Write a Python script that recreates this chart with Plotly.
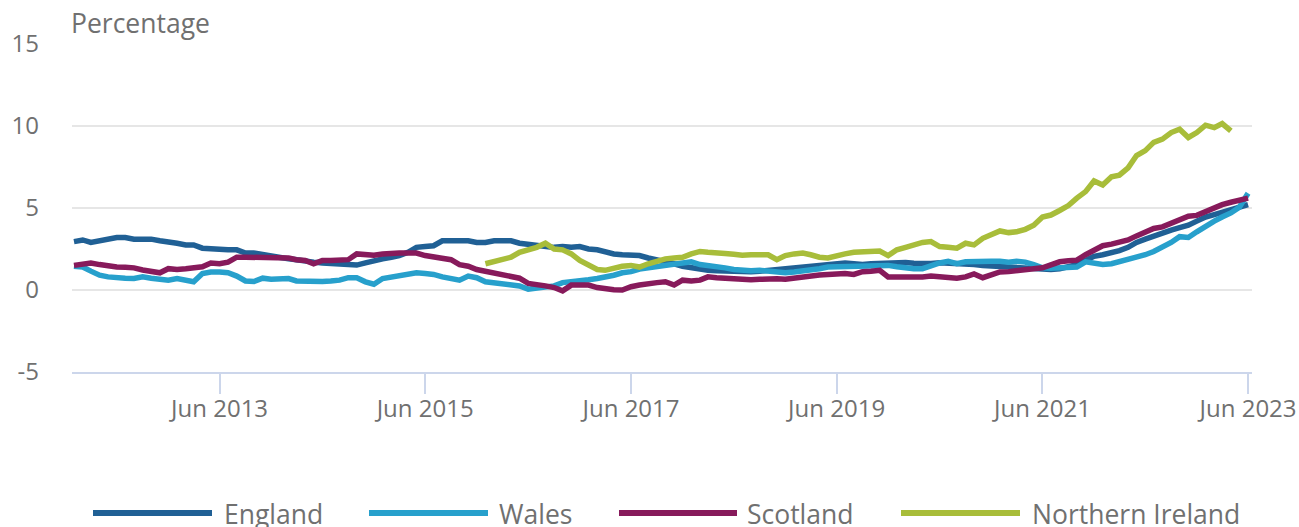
import pandas as pd
import plotly.graph_objects as go

months = pd.date_range("2012-01-01", periods=138, freq="MS")

england = [
    2.95, 3.05, 2.9, 3.0, 3.15, 3.2, 3.2, 3.1, 3.1, 3.1,
    3.0, 2.95, 2.85, 2.75, 2.75, 2.55, 2.5, 2.45, 2.45, 2.45,
    2.25, 2.25, 2.15, 2.1, 1.95, 1.9, 1.85, 1.75, 1.7, 1.65,
    1.6, 1.55, 1.5, 1.52, 1.65, 1.8, 1.9, 2.0, 2.1, 2.3,
    2.6, 2.65, 2.7, 3.0, 3.0, 3.0, 3.0, 2.9, 2.9, 3.0,
    3.0, 3.0, 2.85, 2.8, 2.75, 2.65, 2.6, 2.65, 2.6, 2.65,
    2.5, 2.45, 2.3, 2.2, 2.15, 2.1, 2.1, 1.95, 1.85, 1.75,
    1.6, 1.45, 1.35, 1.25, 1.2, 1.18, 1.15, 1.12, 1.1, 1.12,
    1.15, 1.2, 1.25, 1.3, 1.35, 1.38, 1.45, 1.5, 1.55, 1.6,
    1.65, 1.6, 1.55, 1.6, 1.63, 1.68, 1.72, 1.68, 1.63, 1.6,
    1.62, 1.66, 1.65, 1.63, 1.6, 1.55, 1.5, 1.47, 1.45, 1.42,
    1.38, 1.33, 1.28, 1.25, 1.25, 1.3, 1.4, 1.55, 1.8, 2.05,
    2.15, 2.25, 2.4, 2.6, 2.9, 3.1, 3.3, 3.5, 3.65, 3.8,
    3.95, 4.2, 4.45, 4.6, 4.75, 4.9, 5.05, 5.2,
]

wales = [
    1.45, 1.4, 1.15, 0.9, 0.8, 0.8, 0.72, 0.7, 0.8, 0.72,
    0.62, 0.6, 0.7, 0.55, 0.5, 1.0, 1.1, 1.1, 1.05, 0.85,
    0.55, 0.52, 0.72, 0.65, 0.65, 0.7, 0.55, 0.52, 0.52, 0.52,
    0.55, 0.6, 0.75, 0.75, 0.5, 0.35, 0.7, 0.8, 0.9, 0.95,
    1.05, 1.0, 0.95, 0.8, 0.7, 0.6, 0.85, 0.75, 0.5, 0.42,
    0.38, 0.33, 0.25, 0.05, 0.1, 0.2, 0.25, 0.45, 0.5, 0.5,
    0.62, 0.7, 0.78, 0.9, 1.05, 1.12, 1.28, 1.35, 1.45, 1.5,
    1.58, 1.68, 1.72, 1.55, 1.5, 1.45, 1.35, 1.25, 1.18, 1.18,
    1.2, 1.15, 1.08, 1.05, 1.1, 1.15, 1.25, 1.3, 1.4, 1.42,
    1.45, 1.42, 1.42, 1.48, 1.53, 1.5, 1.42, 1.35, 1.3, 1.3,
    1.5, 1.65, 1.75, 1.6, 1.72, 1.75, 1.75, 1.75, 1.75, 1.7,
    1.75, 1.7, 1.55, 1.35, 1.32, 1.32, 1.32, 1.4, 1.72, 1.65,
    1.55, 1.6, 1.72, 1.85, 2.0, 2.15, 2.35, 2.6, 2.9, 3.25,
    3.2, 3.55, 3.9, 4.2, 4.45, 4.7, 5.05, 5.9,
]

scotland = [
    1.5, 1.62, 1.65, 1.55, 1.45, 1.4, 1.38, 1.35, 1.22, 1.1,
    1.05, 1.3, 1.25, 1.3, 1.38, 1.42, 1.65, 1.6, 1.7, 2.0,
    2.0, 2.0, 1.95, 1.95, 1.95, 1.95, 1.85, 1.8, 1.6, 1.8,
    1.8, 1.85, 1.85, 2.2, 2.15, 2.12, 2.2, 2.25, 2.25, 2.25,
    2.25, 2.1, 2.0, 1.95, 1.85, 1.55, 1.45, 1.25, 1.15, 1.05,
    0.95, 0.85, 0.72, 0.4, 0.35, 0.25, 0.15, -0.05, 0.3, 0.3,
    0.3, 0.15, 0.05, 0.02, 0.0, 0.2, 0.3, 0.4, 0.45, 0.5,
    0.3, 0.6, 0.55, 0.6, 0.8, 0.75, 0.72, 0.7, 0.62, 0.62,
    0.65, 0.7, 0.68, 0.65, 0.72, 0.8, 0.9, 0.92, 0.95, 1.0,
    1.0, 0.95, 1.12, 1.15, 1.2, 0.8, 0.78, 0.77, 0.77, 0.8,
    0.85, 0.78, 0.75, 0.72, 0.8, 0.98, 0.75, 0.9, 1.1, 1.12,
    1.2, 1.25, 1.3, 1.35, 1.5, 1.72, 1.78, 1.82, 2.15, 2.4,
    2.7, 2.8, 2.9, 3.05, 3.3, 3.55, 3.75, 3.85, 4.1, 4.3,
    4.5, 4.55, 4.8, 5.0, 5.2, 5.35, 5.45, 5.6,
]

northern_ireland = [None] * 48 + [
    1.6, 1.75, 1.85, 2.0, 2.3, 2.45, 2.6, 2.85, 2.5, 2.45,
    2.2, 1.8, 1.5, 1.25, 1.2, 1.35, 1.45, 1.5, 1.4, 1.6,
    1.75, 1.9, 1.95, 2.0, 2.2, 2.35, 2.3, 2.3, 2.22, 2.18,
    2.12, 2.15, 2.15, 2.15, 1.85, 2.1, 2.2, 2.25, 2.15, 2.0,
    1.95, 2.1, 2.2, 2.3, 2.32, 2.35, 2.38, 2.1, 2.45, 2.6,
    2.75, 2.9, 2.95, 2.65, 2.6, 2.55, 2.85, 2.75, 3.15, 3.35,
    3.6, 3.5, 3.55, 3.7, 3.95, 4.45, 4.57, 4.85, 5.15, 5.6,
    6.0, 6.65, 6.4, 6.9, 7.0, 7.45, 8.2, 8.5, 9.0, 9.2,
    9.6, 9.8, 9.3, 9.6, 10.05, 9.9, 10.15, 9.7,
] + [None, None]

series_names = ["England", "Wales", "Scotland", "Northern Ireland"]
series_colors = ["#206095", "#27a0cc", "#871a5b", "#a8bd3a"]
series_values = [england, wales, scotland, northern_ireland]

x_tick_vals = ["2013-06-01", "2015-06-01", "2017-06-01", "2019-06-01", "2021-06-01", "2023-06-01"]
x_tick_text = ["Jun 2013", "Jun 2015", "Jun 2017", "Jun 2019", "Jun 2021", "Jun 2023"]
y_tick_vals = [-5, 0, 5, 10, 15]
y_tick_text = ["-5", "0", "5", "10", "15"]

W, H = 1299, 527
L, R, T, B = 72, 47, 44, 155
PW = W - L - R
PH = H - T - B
TEXT = "#707070"
FONT = "Open Sans"

fig = go.Figure()
for name, color, vals in zip(series_names, series_colors, series_values):
    fig.add_trace(go.Scatter(
        x=months, y=vals, name=name, mode="lines",
        line=dict(color=color, width=5.5), connectgaps=False,
        showlegend=False,
    ))

def px_x(p):
    return (p - L) / PW

def px_y(p):
    return (H - B - p) / PH

# Custom legend (long line samples)
legend_items = [(93, 212, 222), (369, 488, 497), (619, 737, 745), (901, 1020, 1030)]
shapes = []
annotations = []
ly = 513
for (x0, x1, tx), name, color in zip(legend_items, series_names, series_colors):
    shapes.append(dict(type="line", xref="paper", yref="paper",
                       x0=px_x(x0), x1=px_x(x1), y0=px_y(ly), y1=px_y(ly),
                       line=dict(color=color, width=6)))
    annotations.append(dict(xref="paper", yref="paper", x=px_x(tx), y=px_y(ly + 1),
                            xanchor="left", yanchor="middle", text=name, showarrow=False,
                            font=dict(family=FONT, size=26.5, color=TEXT)))

annotations.append(dict(xref="paper", yref="paper", x=0, y=1, xanchor="left", yanchor="bottom",
                        xshift=-3, yshift=1,
                        text="Percentage", showarrow=False,
                        font=dict(family=FONT, size=26.5, color=TEXT)))

fig.update_layout(
    width=W, height=H,
    margin=dict(l=L, r=R, t=T, b=B, autoexpand=False),
    paper_bgcolor="white", plot_bgcolor="white",
    font=dict(family=FONT, color=TEXT, size=24),
    shapes=shapes, annotations=annotations,
    showlegend=False,
    xaxis=dict(
        type="date",
        automargin=False,
        range=["2011-12-25", "2023-06-15"],
        tickvals=x_tick_vals, ticktext=x_tick_text,
        ticks="outside", ticklen=20, tickwidth=1.5, tickcolor="#ccd6eb",
        showgrid=False, showline=True, linecolor="#ccd6eb", linewidth=2,
        tickfont=dict(family=FONT, size=24, color=TEXT),
        ticklabelstandoff=-6,
        zeroline=False,
    ),
    yaxis=dict(
        automargin=False,
        range=[-5, 15],
        tickvals=y_tick_vals, ticktext=y_tick_text,
        showgrid=True, gridcolor="#e6e6e6", gridwidth=2,
        zeroline=False, showline=False, ticks="",
        ticklabelstandoff=32,
        tickfont=dict(family=FONT, size=24, color=TEXT),
    ),
)

fig.write_html(
    "out.html",
    config={"displayModeBar": False},
    post_script="document.body.style.margin='0';document.body.style.overflow='hidden';",
)
